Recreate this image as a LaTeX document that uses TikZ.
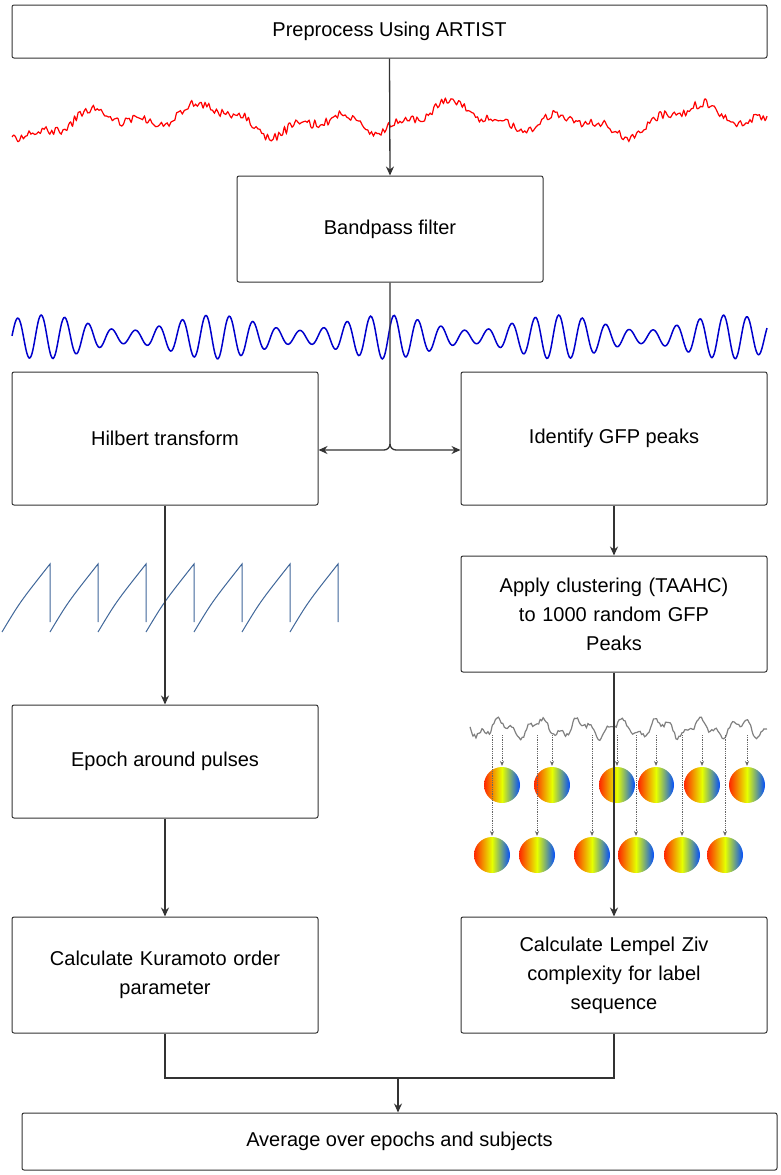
\documentclass[tikz,border=0pt]{standalone}
\usepackage{fontspec}
\setmainfont{Liberation Sans}
\usetikzlibrary{arrows.meta}
\begin{document}
\begin{tikzpicture}[x=1pt,y=-1pt,
  box/.style={draw=black!80,line width=1pt,rounded corners=2pt,align=center,
    font=\fontsize{20}{29}\selectfont,inner sep=4pt},
  arr/.style={draw=black!80,line width=1.3pt,-{Stealth[length=9pt,width=8pt]}},
  ln/.style={draw=black!80,line width=1.3pt},
  dot/.style={draw=black!60,densely dotted,line width=0.8pt,-{Stealth[length=5pt,width=4pt]}}]
\useasboundingbox (0,0) rectangle (780,1175);
\pgfmathsetseed{7}
% signals
\draw[red,line width=1.2pt] plot[domain=12:767,samples=400,smooth] (\x,{120+9*sin(3*\x)+7*sin(1.3*\x+40)+5*sin(7*\x)+4*rand});
\draw[blue!80!black,line width=1.5pt] plot[domain=12:767,samples=700,smooth] (\x,{337+22*sin(15.3*\x)*(0.65+0.35*sin(2.1*\x))});
\foreach \i in {0,...,6}{
  \draw[cyan!50!blue!70!black,line width=1pt] (2+48*\i,632) .. controls (20+48*\i,602) .. (50+48*\i,564) -- (50+48*\i,622);
}
\draw[gray,line width=1.2pt] plot[domain=470:767,samples=200,smooth] (\x,{728+7*sin(9*(\x-470))+4*sin(23*(\x-470))+2*rand});
\foreach \cx/\cy in {502/785,552/785,617/785,656/785,702/785,747/785,492/855,537/855,592/855,636/855,682/855,725/855}{
  \draw[dot] (\cx,735) -- (\cx,{\cy-19});
  \shade[shading angle=30,left color=red!85!yellow,right color=blue!70!cyan,middle color=yellow!90!green] (\cx,\cy) circle (18);
}
% boxes
\node[box,minimum width=755,minimum height=53] (pre) at (389.5,31.5) {Preprocess Using ARTIST};
\node[box,minimum width=306,minimum height=106] (bp) at (390,229) {Bandpass filter};
\node[box,minimum width=306,minimum height=133] (hil) at (165,438.5) {Hilbert transform};
\node[box,minimum width=306,minimum height=133] (gfp) at (614,438.5) {Identify GFP peaks};
\node[box,minimum width=306,minimum height=116,text width=296] (cl) at (614,614) {Apply clustering (TAAHC)\\ to 1000 random GFP\\ Peaks};
\node[box,minimum width=306,minimum height=113] (ep) at (165,761.5) {Epoch around pulses};
\node[box,minimum width=306,minimum height=116,text width=296] (ku) at (165,975) {Calculate Kuramoto order\\ parameter};
\node[box,minimum width=306,minimum height=116,text width=296] (lz) at (614,975) {Calculate Lempel Ziv\\ complexity for label\\ sequence};
\node[box,minimum width=755,minimum height=57] (av) at (399.5,1141.5) {Average over epochs and subjects};
% connectors
\coordinate (sp) at (390,450);
\draw[arr] (pre.south) -- (bp.north);
\draw[arr] (bp.south) -- (390,444) to[out=-90,in=0] (384,450) -- (hil.east |- sp);
\draw[arr] (390,444) to[out=-90,in=180] (396,450) -- (gfp.west |- sp);
\draw[arr] (hil.south) -- (ep.north);
\draw[arr] (ep.south) -- (ku.north);
\draw[arr] (gfp.south) -- (cl.north);
\draw[arr] (cl.south) -- (lz.north);
\coordinate (mj) at (398,1078);
\draw[ln] (ku.south) -- (165,1078) -- (lz.south |- mj) -- (lz.south);
\draw[arr] (mj) -- (av.north -| mj);
\end{tikzpicture}
\end{document}
